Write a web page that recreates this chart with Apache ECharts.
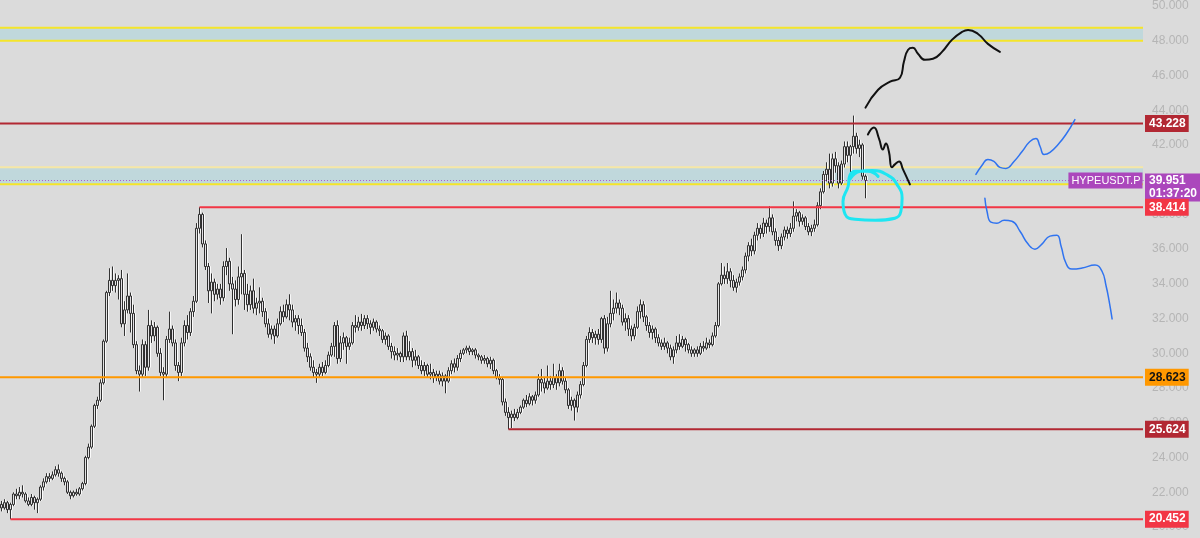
<!DOCTYPE html>
<html>
<head>
<meta charset="utf-8">
<script src="https://cdn.jsdelivr.net/npm/echarts@6/dist/echarts.min.js"></script>
<style>
  html, body { margin: 0; padding: 0; background: #dbdbdb; }
  #chart { width: 1200px; height: 538px; }
</style>
</head>
<body>
<div id="chart"></div>
<script>
// candles: [open, close, low, high]
const candles = [
  [21.3,21.1,20.9,21.5],[21.1,21.4,21.0,21.6],[21.4,21.0,20.8,21.5],[21.0,21.3,20.45,21.4],
  [21.3,21.9,21.2,22.0],[21.9,21.8,21.6,22.2],[21.8,22.0,21.6,22.3],[22.0,21.9,21.7,22.4],
  [21.9,21.5,21.4,22.0],[21.5,21.3,21.2,21.7],[21.3,21.7,21.2,21.9],[21.7,21.4,21.0,21.8],
  [21.4,21.6,20.8,21.7],[21.6,22.3,21.5,22.4],[22.3,22.6,22.1,22.8],[22.6,22.9,22.5,23.1],
  [22.9,22.8,22.6,23.1],[22.8,23.0,22.7,23.2],[23.0,23.3,22.9,23.5],[23.3,23.1,22.9,23.6],
  [23.1,22.8,22.6,23.2],[22.8,22.6,22.4,22.9],[22.6,22.0,21.9,22.7],[22.0,21.8,21.6,22.1],
  [21.8,22.0,21.7,22.1],[22.0,21.9,21.8,22.2],[21.9,22.2,21.8,22.3],[22.2,22.5,22.1,22.6],
  [22.5,24.0,22.4,24.1],[24.0,24.6,23.9,24.8],[24.6,25.8,24.5,25.9],[25.8,27.0,25.7,27.1],
  [27.0,27.3,26.8,27.5],[27.3,28.3,27.2,28.5],[28.3,30.7,28.2,30.8],[30.7,33.5,30.6,33.6],
  [33.5,34.2,33.3,34.9],[34.2,33.9,33.6,35.0],[33.9,34.2,33.5,34.6],[34.2,34.3,33.1,34.5],
  [34.3,31.7,31.5,34.8],[31.7,32.5,31.0,33.0],[32.5,33.3,32.3,34.6],[33.3,32.3,31.2,33.5],
  [32.3,30.5,30.3,32.8],[30.5,29.0,28.8,30.7],[29.0,28.8,27.8,29.3],[28.8,30.5,28.6,30.8],
  [30.5,29.2,28.7,30.7],[29.2,31.6,29.0,32.5],[31.6,31.0,30.6,31.9],[31.0,31.5,30.7,31.8],
  [31.5,30.0,29.8,31.6],[30.0,28.9,28.7,30.3],[28.9,28.8,27.3,29.2],[28.8,30.8,28.6,31.0],
  [30.8,31.4,30.6,32.4],[31.4,30.6,30.4,31.6],[30.6,29.3,29.0,30.8],[29.3,28.9,28.4,29.5],
  [28.9,30.6,28.7,30.9],[30.6,31.6,30.4,31.9],[31.6,31.2,30.8,32.2],[31.2,32.4,31.0,32.6],
  [32.4,33.0,32.1,33.3],[33.0,37.2,32.9,37.5],[37.2,38.0,36.9,38.414],[38.0,36.3,36.1,38.1],
  [36.3,35.0,34.8,36.5],[35.0,33.6,32.9,35.2],[33.6,34.1,32.3,34.6],[34.1,33.4,33.0,34.3],
  [33.4,33.7,33.1,34.0],[33.7,33.2,32.8,34.0],[33.2,35.0,33.0,35.3],[35.0,35.3,34.5,36.06],
  [35.3,34.0,33.6,35.5],[34.0,33.7,31.1,34.4],[33.7,33.1,32.7,34.2],[33.1,34.4,32.8,35.0],
  [34.4,34.6,33.4,36.86],[34.6,33.4,32.5,34.8],[33.4,32.8,32.4,34.0],[32.8,33.6,32.5,33.9],
  [33.6,32.6,32.3,34.3],[32.6,32.9,32.2,33.2],[32.9,33.0,32.3,33.8],[33.0,32.4,32.1,33.2],
  [32.4,31.7,31.5,32.6],[31.7,31.1,30.9,32.0],[31.1,31.4,30.8,31.6],[31.4,31.0,30.55,31.6],
  [31.0,31.7,30.9,32.0],[31.7,32.4,31.6,32.7],[32.4,32.1,31.8,32.8],[32.1,32.8,32.0,33.1],
  [32.8,32.5,31.9,33.4],[32.5,31.8,31.5,32.8],[31.8,32.0,31.3,32.2],[32.0,31.6,31.1,32.2],
  [31.6,31.2,31.0,32.0],[31.2,30.3,30.1,31.4],[30.3,29.8,29.5,30.6],[29.8,29.2,29.0,30.0],
  [29.2,28.9,28.6,29.6],[28.9,28.8,28.3,29.1],[28.8,29.2,28.6,29.4],[29.2,28.9,28.7,29.5],
  [28.9,29.3,28.8,29.6],[29.3,29.9,29.2,30.1],[29.9,30.4,29.8,30.6],[30.4,31.6,29.8,31.8],
  [31.6,29.7,29.4,31.9],[29.7,30.6,29.5,31.0],[30.6,30.9,30.2,31.2],[30.9,30.4,29.4,31.0],
  [30.4,30.6,30.2,30.9],[30.6,31.6,30.5,31.8],[31.6,31.5,31.2,32.2],[31.5,31.8,31.3,32.1],
  [31.8,31.6,31.3,32.27],[31.6,32.0,31.4,32.2],[32.0,31.7,31.4,32.2],[31.7,31.5,31.1,31.9],
  [31.5,31.8,31.3,32.0],[31.8,31.4,31.2,31.9],[31.4,31.3,31.0,31.6],[31.3,30.8,30.6,31.4],
  [30.8,31.0,30.5,31.2],[31.0,30.4,30.2,31.1],[30.4,30.1,29.7,30.6],[30.1,29.9,29.6,30.4],
  [29.9,30.0,29.6,30.3],[30.0,29.8,29.5,30.1],[29.8,31.0,29.5,31.2],[31.0,29.8,29.6,31.3],
  [29.8,30.1,29.6,30.7],[30.1,29.6,29.2,30.3],[29.6,29.8,29.3,30.2],[29.8,29.3,29.1,29.9],
  [29.3,29.0,28.8,29.6],[29.0,29.3,28.7,29.5],[29.3,28.8,28.6,29.4],[28.8,28.9,28.5,29.4],
  [28.9,28.6,28.3,29.1],[28.6,28.8,28.4,29.0],[28.8,28.4,28.2,29.0],[28.4,28.7,28.1,28.9],
  [28.7,28.4,27.7,28.8],[28.4,29.0,28.3,29.2],[29.0,29.4,28.8,29.6],[29.4,29.2,28.9,29.7],
  [29.2,29.7,29.0,29.9],[29.7,30.0,29.5,30.2],[30.0,30.2,29.9,30.3],[30.2,30.3,30.0,30.44],
  [30.3,30.1,29.9,30.44],[30.1,30.2,29.9,30.3],[30.2,29.9,29.7,30.3],[29.9,29.8,29.6,30.0],
  [29.8,29.6,29.4,29.9],[29.6,29.7,29.4,29.9],[29.7,29.4,29.2,29.8],[29.4,29.6,29.1,29.8],
  [29.6,29.0,28.8,29.7],[29.0,28.6,28.5,29.1],[28.6,28.5,28.2,28.8],[28.5,27.2,27.0,28.6],
  [27.2,26.6,26.4,27.4],[26.6,26.3,25.624,26.9],[26.3,26.5,25.7,26.7],[26.5,26.3,26.1,26.8],
  [26.3,26.6,26.2,26.8],[26.6,26.9,26.5,27.0],[26.9,27.3,26.8,27.4],[27.3,27.1,26.9,27.6],
  [27.1,27.5,27.0,27.7],[27.5,27.3,27.0,27.6],[27.3,27.6,27.1,27.8],[27.6,28.5,27.5,28.8],
  [28.5,28.3,27.8,29.1],[28.3,28.0,27.7,28.6],[28.0,28.4,27.9,29.3],[28.4,28.2,27.9,28.7],
  [28.2,28.6,28.0,29.4],[28.6,28.3,27.9,28.8],[28.3,29.0,28.1,29.4],[29.0,28.4,28.2,29.2],
  [28.4,27.9,27.7,28.6],[27.9,27.0,26.8,28.0],[27.0,27.3,26.7,27.5],[27.3,26.9,26.13,27.4],
  [26.9,27.6,26.6,27.8],[27.6,28.2,27.4,28.4],[28.2,29.3,28.1,29.5],[29.3,30.8,29.2,31.0],
  [30.8,31.2,30.6,31.5],[31.2,30.9,30.6,31.4],[30.9,31.1,30.5,31.3],[31.1,30.8,30.5,31.4],
  [30.8,32.0,30.6,32.1],[32.0,30.3,29.98,32.2],[30.3,31.7,30.1,32.1],[31.7,32.3,31.5,33.6],
  [32.3,32.6,31.9,33.1],[32.6,32.9,32.3,33.5],[32.9,32.6,32.2,33.1],[32.6,31.8,31.6,32.8],
  [31.8,32.0,31.3,32.3],[32.0,31.4,31.0,32.2],[31.4,31.0,30.7,31.6],[31.0,31.5,30.8,31.7],
  [31.5,32.4,31.4,32.7],[32.4,32.8,32.0,33.1],[32.8,32.1,31.8,33.0],[32.1,31.6,31.3,32.2],
  [31.6,31.2,30.9,31.8],[31.2,31.4,30.8,31.6],[31.4,30.9,30.6,31.5],[30.9,30.6,30.4,31.1],
  [30.6,30.4,30.2,30.8],[30.4,30.6,30.2,30.9],[30.6,30.3,30.0,30.7],[30.3,29.8,29.6,30.5],
  [29.8,30.2,29.4,30.4],[30.2,30.6,30.0,31.0],[30.6,30.4,30.2,31.1],[30.4,30.8,30.3,31.0],
  [30.8,30.5,30.1,30.9],[30.5,30.2,30.0,30.6],[30.2,30.0,29.8,30.4],[30.0,30.2,29.8,30.3],
  [30.2,30.0,29.8,30.4],[30.0,30.4,29.9,30.6],[30.4,30.3,30.1,30.7],[30.3,30.6,30.2,30.9],
  [30.6,30.5,30.3,30.8],[30.5,31.0,30.4,31.2],[31.0,31.6,30.9,31.8],[31.6,34.0,31.5,34.1],
  [34.0,34.5,33.9,35.2],[34.5,34.3,34.0,35.0],[34.3,34.7,34.0,35.2],[34.7,34.2,33.8,34.9],
  [34.2,33.8,33.6,34.5],[33.8,34.1,33.5,34.3],[34.1,34.4,33.9,34.6],[34.4,34.8,34.2,35.0],
  [34.8,35.6,34.6,35.8],[35.6,36.2,35.3,36.4],[36.2,35.9,35.6,36.6],[35.9,36.8,35.7,37.0],
  [36.8,37.2,36.5,37.5],[37.2,36.9,36.6,37.4],[36.9,37.5,36.7,37.8],[37.5,37.3,36.9,37.7],
  [37.3,37.8,37.0,38.47],[37.8,37.0,36.8,38.0],[37.0,36.5,36.2,37.2],[36.5,36.2,35.9,36.7],
  [36.2,36.7,36.0,36.9],[36.7,37.1,36.5,37.3],[37.1,36.9,36.6,37.3],[36.9,37.2,36.7,37.5],
  [37.2,37.9,37.0,38.75],[37.9,38.1,37.6,38.3],[38.1,37.6,37.3,38.2],[37.6,37.8,37.4,38.0],
  [37.8,37.3,37.1,37.9],[37.3,37.0,36.8,37.5],[37.0,37.2,36.75,37.4],[37.2,37.4,37.0,37.7],
  [37.4,38.5,37.3,38.7],[38.5,39.3,38.3,39.5],[39.3,40.3,39.2,40.5],[40.3,40.6,39.9,41.0],
  [40.6,39.8,39.5,41.5],[39.8,41.2,39.6,41.5],[41.2,40.8,40.4,41.6],[40.8,39.8,39.5,41.0],
  [39.8,40.9,39.7,41.1],[40.9,41.9,40.7,42.2],[41.9,41.4,41.0,42.2],[41.4,41.9,40.1,42.0],
  [41.9,42.5,41.5,43.69],[42.5,41.8,41.5,42.7],[41.8,42.0,41.3,42.3],[42.0,40.2,40.0,42.1],
  [40.2,39.951,38.93,40.3]
];

const slotCount = 381;           // candles + empty future space
const categories = Array.from({ length: slotCount }, (_, i) => String(i));

// horizontal levels: value, first candle index
const levels = [
  { value: 43.228, from: -0.5, kind: 'dark' },
  { value: 38.414, from: 66, kind: 'red' },
  { value: 28.623, from: -0.5, kind: 'orange' },
  { value: 25.624, from: 169, kind: 'dark' },
  { value: 20.452, from: 3, kind: 'red' }
];
const bands = [[48.0, 48.75], [39.73, 40.72]];
const lastPrice = 39.951;
const countdown = '01:37:20';
const symbolName = 'HYPEUSDT.P';

// drawings, [candle index, price]
const blackUp = [[288,44.15],[292.2,45.18],[296.2,45.64],[299.5,45.87],[300.8,46.79],[302.2,47.48],
  [303.8,47.59],[305.5,47.25],[307.8,46.9],[310.5,46.96],[313.5,47.36],[316.8,48.05],[320.2,48.51],
  [322.2,48.62],[325.5,48.39],[328.8,47.82],[332.8,47.36]];
const blackDown = [[288.8,42.6],[290.8,43.0],[292.5,42.37],[293.8,41.74],[294.8,42.08],[295.8,41.62],
  [296.8,40.71],[297.8,40.88],[299.2,41.05],[300.5,40.59],[302.8,39.73]];
const cyanLoop = [[292.2,40.19],[288.8,40.48],[284.8,40.48],[282.8,40.25],[282.2,39.62],[280.5,38.75],
  [281.2,38.01],[284.5,37.72],[291.2,37.66],[297.8,37.78],[299.8,38.18],[300.2,38.93],[298.5,39.73],
  [295.5,40.25],[290.2,40.53],[286.2,40.48],[282.8,40.02]];
const blueUp = [[324.8,40.3],[326.8,40.82],[328.8,41.16],[330.8,41.05],[332.8,40.71],[334.8,40.65],
  [337.5,41.05],[340.2,41.62],[342.8,42.2],[344.8,42.37],[346.2,41.91],[347.5,41.45],[349.5,41.57],
  [352.2,42.03],[354.8,42.6],[357.8,43.46]];
const blueDown = [[327.8,38.93],[328.5,38.18],[329.8,37.55],[331.8,37.49],[334.2,37.66],[336.8,37.61],
  [339.5,37.03],[342.2,36.29],[344.5,36.0],[346.8,36.29],[349.5,36.75],[351.8,36.8],[353.2,36.17],
  [354.8,35.2],[356.8,34.85],[360.2,34.91],[364.5,35.08],[366.8,34.74],[368.2,33.88],[369.2,33.02],
  [370.2,31.98]];

const chart = echarts.init(document.getElementById('chart'));
const lastX = slotCount - 0.5;
const font = 'Liberation Sans, Arial, sans-serif';

const levelStyle = {
  dark: { line: '#b22833', box: '#b22833', text: '#ffffff' },
  red: { line: '#f23645', box: '#f23645', text: '#ffffff' },
  orange: { line: '#ff9800', box: '#ff9800', text: '#131313' }
};

const levelSeries = levels.map(function (lv) {
  const st = levelStyle[lv.kind];
  return {
    type: 'line', xAxisIndex: 1, z: 6, symbol: 'none', silent: true,
    data: [[lv.from, lv.value], [lastX, lv.value]],
    lineStyle: { color: st.line, width: 2 },
    endLabel: {
      show: true, distance: 2, formatter: lv.value.toFixed(3),
      backgroundColor: st.box, color: st.text, fontFamily: font, fontSize: 12,
      fontWeight: 'bold', padding: [3, 3, 2, 4]
    }
  };
});

const edgeSeries = [];
bands.forEach(function (b, k) {
  [b[0], b[1]].forEach(function (v, j) {
    edgeSeries.push({
      type: 'line', xAxisIndex: 1, z: 3, symbol: 'none', silent: true,
      data: [[-0.5, v], [lastX, v]],
      lineStyle: { color: (k === 1 && j === 1) ? '#f6e7a6' : '#f5e52a', width: 2 }
    });
  });
});

function drawing(data, color, width) {
  return {
    type: 'line', xAxisIndex: 1, z: 8, symbol: 'none', smooth: 0.5, silent: true,
    data: data, lineStyle: { color: color, width: width, cap: 'round', join: 'round' }
  };
}

const option = {
  animation: false,
  backgroundColor: '#dbdbdb',
  grid: { left: 0, right: 57, top: 4, bottom: 11 },
  xAxis: [
    { type: 'category', data: categories, boundaryGap: true, show: false },
    { type: 'value', min: -0.5, max: lastX, show: false }
  ],
  yAxis: {
    type: 'value', position: 'right', min: 20, max: 50, interval: 2,
    axisLine: { show: false }, axisTick: { show: false }, splitLine: { show: false },
    axisLabel: {
      color: '#b5b5b5', fontSize: 12, fontFamily: font, margin: 9,
      formatter: function (v) { return v.toFixed(3); }
    }
  },
  series: [
    {
      type: 'line', xAxisIndex: 1, data: [], z: 1, silent: true,
      markArea: {
        silent: true,
        itemStyle: { color: '#c0d8dc' },
        data: bands.map(function (b) { return [{ yAxis: b[0] }, { yAxis: b[1] }]; })
      }
    },
    {
      type: 'candlestick', xAxisIndex: 0, z: 4, barWidth: 3,
      data: candles,
      itemStyle: {
        color: '#7a7a7a', color0: '#76647c',
        borderColor: '#333333', borderColor0: '#2e2e2e', borderWidth: 1,
        shadowColor: 'rgba(255,255,255,0.8)', shadowOffsetX: 1, shadowBlur: 0
      }
    },
    ...edgeSeries,
    {
      type: 'line', xAxisIndex: 1, z: 5, symbol: 'rect', symbolSize: 1, showSymbol: true, silent: true,
      data: [
        [-0.5, lastPrice],
        {
          value: [lastX, lastPrice],
          label: {
            show: true, position: 'left', distance: 0, formatter: symbolName,
            backgroundColor: '#ab47bc', color: '#ffffff', fontFamily: font, fontSize: 11,
            padding: [3, 2, 2, 3]
          }
        }
      ],
      itemStyle: { color: '#ab47bc' },
      lineStyle: { color: '#b05ccc', width: 1, type: [1, 2] },
      endLabel: {
        show: true, distance: 2, offset: [0, 7], formatter: lastPrice.toFixed(3) + '\n' + countdown,
        backgroundColor: '#ab47bc', color: '#ffffff', fontFamily: font, fontSize: 12,
        fontWeight: 'bold', lineHeight: 13, padding: [2, 3, 0, 4], align: 'left'
      }
    },
    ...levelSeries,
    drawing(blackUp, '#111111', 2),
    drawing(blackDown, '#111111', 2),
    drawing(cyanLoop, '#1ee6f2', 3),
    drawing(blueUp, '#2f73f0', 1.5),
    drawing(blueDown, '#2f73f0', 1.5)
  ]
};

chart.setOption(option);
</script>
</body>
</html>
